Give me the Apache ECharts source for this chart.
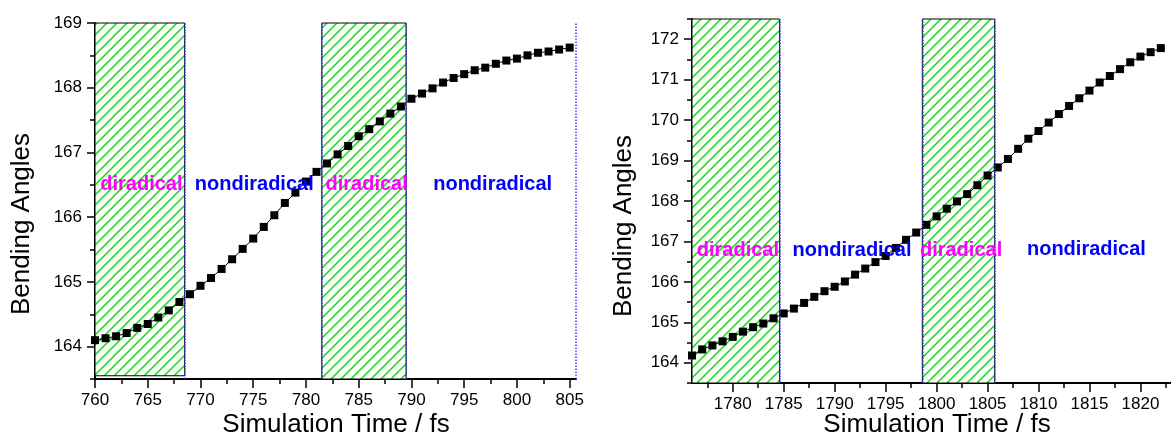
<!DOCTYPE html>
<html>
<head>
<meta charset="utf-8">
<script src="https://cdn.jsdelivr.net/npm/echarts@6/dist/echarts.min.js"></script>
<style>
  html, body { margin: 0; padding: 0; background: #fff; }
  #chart { width: 1171px; height: 441px; }
</style>
</head>
<body>
<div id="chart"></div>
<script>
// left panel: 760-805 fs
var leftTime = [760, 761, 762, 763, 764, 765, 766, 767, 768, 769, 770, 771, 772, 773, 774, 775,
  776, 777, 778, 779, 780, 781, 782, 783, 784, 785, 786, 787, 788, 789, 790, 791, 792, 793, 794,
  795, 796, 797, 798, 799, 800, 801, 802, 803, 804, 805];
var leftAngle = [164.10, 164.13, 164.16, 164.21, 164.29, 164.35, 164.45, 164.56, 164.69, 164.81,
  164.94, 165.06, 165.20, 165.35, 165.51, 165.67, 165.85, 166.03, 166.22, 166.38, 166.55, 166.70,
  166.83, 166.97, 167.10, 167.25, 167.36, 167.48, 167.60, 167.71, 167.83, 167.91, 167.99, 168.08,
  168.15, 168.21, 168.27, 168.31, 168.37, 168.42, 168.45, 168.50, 168.54, 168.56, 168.59, 168.62];

// right panel: 1776-1822 fs
var rightTime = [1776, 1777, 1778, 1779, 1780, 1781, 1782, 1783, 1784, 1785, 1786, 1787, 1788,
  1789, 1790, 1791, 1792, 1793, 1794, 1795, 1796, 1797, 1798, 1799, 1800, 1801, 1802, 1803, 1804,
  1805, 1806, 1807, 1808, 1809, 1810, 1811, 1812, 1813, 1814, 1815, 1816, 1817, 1818, 1819, 1820,
  1821, 1822];
var rightAngle = [164.18, 164.33, 164.43, 164.53, 164.64, 164.77, 164.88, 164.97, 165.10, 165.22,
  165.34, 165.48, 165.63, 165.77, 165.88, 166.01, 166.18, 166.33, 166.49, 166.64, 166.84, 167.04,
  167.22, 167.41, 167.62, 167.81, 167.99, 168.17, 168.39, 168.63, 168.83, 169.04, 169.29, 169.54,
  169.73, 169.94, 170.15, 170.35, 170.54, 170.73, 170.93, 171.09, 171.26, 171.43, 171.57, 171.68,
  171.78];

// tick labels
var leftXTicks = [760, 765, 770, 775, 780, 785, 790, 795, 800, 805];
var leftYTicks = [164, 165, 166, 167, 168, 169];
var rightXTicks = [1780, 1785, 1790, 1795, 1800, 1805, 1810, 1815, 1820];
var rightYTicks = [164, 165, 166, 167, 168, 169, 170, 171, 172];

// diradical bands [start, end, bottom]
var leftBands = [[760, 768.5, 163.55], [781.5, 789.5, 163.5]];
var rightBands = [[1776, 1784.6, 163.5], [1798.6, 1805.7, 163.5]];

// region notes [text, time, angle]
var leftNotes = [['diradical', 764.4, 166.5], ['nondiradical', 775.1, 166.5],
  ['diradical', 785.75, 166.5], ['nondiradical', 797.7, 166.5]];
var rightNotes = [['diradical', 1780.5, 166.77], ['nondiradical', 1791.7, 166.77],
  ['diradical', 1802.4, 166.77], ['nondiradical', 1814.7, 166.79]];

(function() {
  var font = "'Liberation Sans', Arial, sans-serif";

  function steps(lo, hi, step) {
    var out = [];
    for (var v = lo; v <= hi + 1e-9; v += step) out.push(+v.toFixed(3));
    return out;
  }

  function hatch() {
    var c = document.createElement('canvas');
    c.width = 10; c.height = 10;
    var g = c.getContext('2d');
    g.fillStyle = '#fff';
    g.fillRect(0, 0, 10, 10);
    g.strokeStyle = '#10dc10';
    g.lineWidth = 1.5;
    g.beginPath();
    g.moveTo(0, 10); g.lineTo(10, 0);
    g.moveTo(-2, 2); g.lineTo(2, -2);
    g.moveTo(8, 12); g.lineTo(12, 8);
    g.stroke();
    return c;
  }
  var pattern = { image: hatch(), repeat: 'repeat' };

  // axis carrying the line and the minor ticks
  function lineAxis(grid, min, max, ticks, len) {
    return {
      type: 'value', gridIndex: grid, min: min, max: max,
      axisLine: { show: true, lineStyle: { color: '#000', width: 2 } },
      axisTick: { show: true, customValues: ticks, length: len, lineStyle: { color: '#000', width: 1.5 } },
      axisLabel: { show: false },
      splitLine: { show: false }
    };
  }
  // overlay axis carrying the major ticks and labels
  function labelAxis(grid, min, max, ticks, len) {
    return {
      type: 'value', gridIndex: grid, min: min, max: max,
      axisLine: { show: false },
      axisTick: { show: true, customValues: ticks, length: len, lineStyle: { color: '#000', width: 1.5 } },
      axisLabel: {
        show: true, customValues: ticks, margin: 13, color: '#000', fontSize: 17, fontFamily: font,
        formatter: function(v) { return String(v); }
      },
      splitLine: { show: false }
    };
  }

  function pairs(xs, ys) {
    return xs.map(function(x, i) { return [x, ys[i]]; });
  }

  function bandAreas(bands, top) {
    return bands.map(function(b) {
      return [{ coord: [b[0], b[2]] }, { coord: [b[1], top] }];
    });
  }

  function noteData(notes) {
    return notes.map(function(n) {
      return {
        value: [n[1], n[2]],
        label: { formatter: n[0], color: n[0] === 'diradical' ? '#ff00ff' : '#0000ff' }
      };
    });
  }

  function lineSeries(ax, data, bands, top, edges) {
    return {
      type: 'line', xAxisIndex: ax, yAxisIndex: ax,
      data: data,
      symbol: 'rect', symbolSize: 8, showAllSymbol: true,
      itemStyle: { color: '#000' },
      lineStyle: { color: '#000', width: 1 },
      clip: false,
      markArea: {
        silent: true,
        itemStyle: { color: pattern, borderColor: '#000', borderWidth: 1 },
        data: bandAreas(bands, top)
      },
      markLine: {
        silent: true, symbol: ['none', 'none'],
        label: { show: false },
        lineStyle: { color: '#3a3aff', type: 'dotted', width: 1.5 },
        data: edges.map(function(x) { return { xAxis: x }; })
      }
    };
  }

  function noteSeries(ax, notes) {
    return {
      type: 'scatter', xAxisIndex: ax, yAxisIndex: ax, z: 10,
      symbolSize: 0,
      itemStyle: { opacity: 1 },
      label: { show: true, position: 'inside', opacity: 1, fontSize: 20, fontWeight: 'bold', fontFamily: font },
      data: noteData(notes)
    };
  }

  function title(text, x, y, vertical) {
    return {
      type: 'text', x: x, y: y, rotation: vertical ? Math.PI / 2 : 0,
      style: { text: text, fill: '#000', font: '26px ' + font, textAlign: 'center', textVerticalAlign: 'middle' }
    };
  }

  var L = { left: 95, top: 23, width: 481, height: 356 };
  var R = { left: 692, top: 19, width: 482, height: 364 };

  var chart = echarts.init(document.getElementById('chart'), null, { renderer: 'canvas' });
  chart.setOption({
    animation: false,
    backgroundColor: '#fff',
    grid: [L, L, R, R],
    xAxis: [
      lineAxis(0, 760, 805.6, steps(760, 805.6, 2.5), 5),
      labelAxis(1, 760, 805.6, leftXTicks, 9),
      lineAxis(2, 1776, 1823, steps(1777.5, 1823, 2.5), 5),
      labelAxis(3, 1776, 1823, rightXTicks, 9)
    ],
    yAxis: [
      lineAxis(0, 163.5, 169, steps(163.5, 169, 0.5), 5),
      labelAxis(1, 163.5, 169, leftYTicks, 8),
      lineAxis(2, 163.5, 172.5, steps(163.5, 172.5, 0.5), 5),
      labelAxis(3, 163.5, 172.5, rightYTicks, 8)
    ],
    series: [
      lineSeries(0, pairs(leftTime, leftAngle), leftBands, 169, [768.5, 781.5, 789.5, 805.6]),
      noteSeries(0, leftNotes),
      lineSeries(2, pairs(rightTime, rightAngle), rightBands, 172.5, [1784.6, 1798.6, 1805.7]),
      noteSeries(2, rightNotes)
    ],
    graphic: [
      title('Bending Angles', 22, 224, true),
      title('Simulation Time / fs', 336, 425, false),
      title('Bending Angles', 624, 226, true),
      title('Simulation Time / fs', 937, 425, false)
    ]
  });
  window.addEventListener('resize', function() { chart.resize(); });
})();
</script>
</body>
</html>
